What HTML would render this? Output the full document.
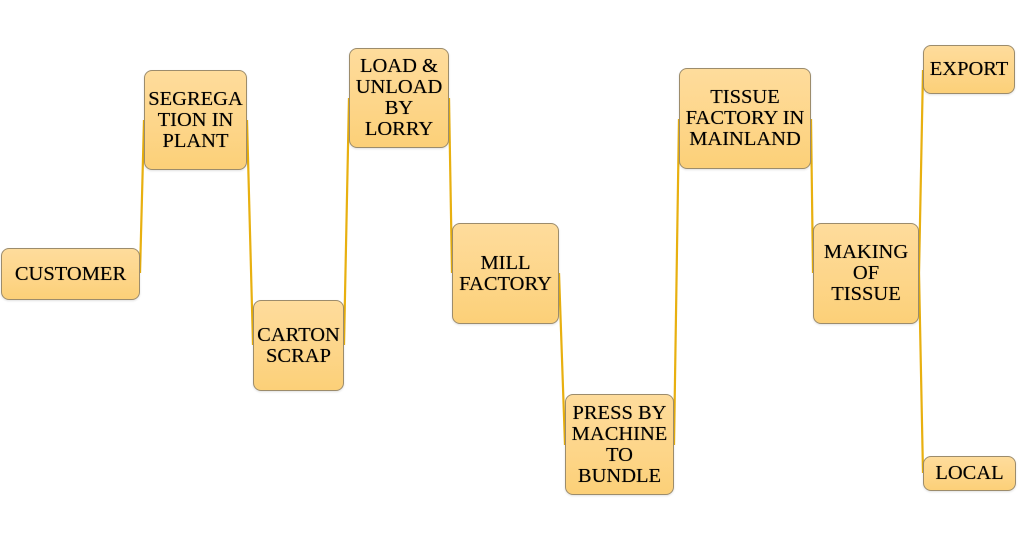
<!DOCTYPE html>
<html><head><meta charset="utf-8"><style>
html,body{margin:0;padding:0;background:#fff;}
body{width:1024px;height:548px;position:relative;overflow:hidden;}
.b{position:absolute;box-sizing:border-box;border:1px solid #9c8c6c;border-radius:8px;
background:linear-gradient(to bottom,#fedc9c 0%,#fdd588 60%,#fcd078 100%);
display:flex;align-items:center;justify-content:center;text-align:center;
font-family:"Liberation Serif",serif;font-size:20.5px;line-height:21px;color:#000;
text-shadow:0 0 0.6px rgba(0,0,0,0.6);
box-shadow:0 1px 2px rgba(0,0,0,0.12);}
svg{position:absolute;left:0;top:0;}
</style></head><body>
<svg width="1024" height="548" viewBox="0 0 1024 548">
<g stroke="#e8b010" stroke-width="2.2" fill="none">
<line x1="140" y1="273" x2="144" y2="120"/>
<line x1="247" y1="120" x2="253" y2="345"/>
<line x1="344" y1="345" x2="349" y2="98"/>
<line x1="449" y1="98" x2="452" y2="273"/>
<line x1="559" y1="273" x2="565" y2="445"/>
<line x1="674" y1="445" x2="679" y2="119"/>
<line x1="811" y1="119" x2="813" y2="273"/>
<line x1="919" y1="273" x2="923" y2="70"/>
<line x1="919" y1="273" x2="923" y2="473"/>
</g>
</svg>
<div class="b" style="left:1px;top:248px;width:139px;height:52px;">CUSTOMER</div>
<div class="b" style="left:144px;top:70px;width:103px;height:100px;">SEGREGA<br>TION IN<br>PLANT</div>
<div class="b" style="left:253px;top:300px;width:91px;height:91px;">CARTON<br>SCRAP</div>
<div class="b" style="left:349px;top:48px;width:100px;height:100px;">LOAD &amp;<br>UNLOAD<br>BY<br>LORRY</div>
<div class="b" style="left:452px;top:223px;width:107px;height:101px;">MILL<br>FACTORY</div>
<div class="b" style="left:565px;top:394px;width:109px;height:101px;">PRESS BY<br>MACHINE<br>TO<br>BUNDLE</div>
<div class="b" style="left:679px;top:68px;width:132px;height:101px;">TISSUE<br>FACTORY IN<br>MAINLAND</div>
<div class="b" style="left:813px;top:223px;width:106px;height:101px;">MAKING<br>OF<br>TISSUE</div>
<div class="b" style="left:923px;top:45px;width:92px;height:49px;">EXPORT</div>
<div class="b" style="left:923px;top:456px;width:93px;height:35px;">LOCAL</div>
</body></html>
